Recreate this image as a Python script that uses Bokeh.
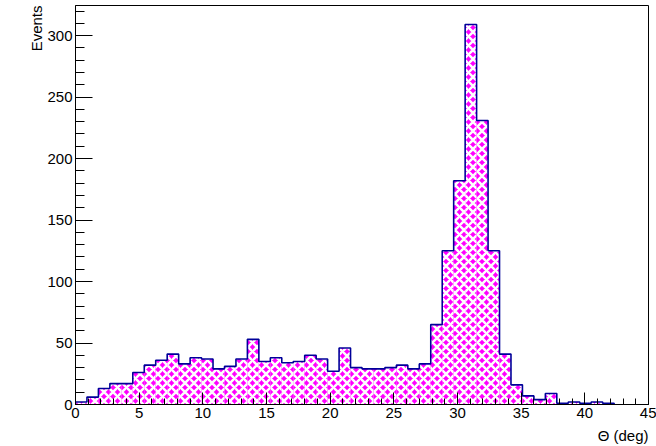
import numpy as np
from bokeh.plotting import figure
from bokeh.models import SingleIntervalTicker, Range1d, Title
from bokeh.embed import file_html
from bokeh.resources import INLINE

# ---- data ----
x_min = 0.0
x_max = 45.0
n_bins = 50
counts = [2, 6, 13, 17, 17, 26, 32, 36, 41, 33,
          38, 37, 29, 31, 37, 53, 35, 38, 34, 35,
          40, 37, 27, 46, 30, 29, 29, 30, 32, 29,
          33, 65, 125, 182, 309, 231, 125, 41, 16, 7,
          4, 9, 1, 2, 1, 2, 1, 0, 0, 0]
x_title = "Θ (deg)"
y_title = "Events"
y_max = 324.5

edges = np.linspace(x_min, x_max, n_bins + 1)
counts_arr = np.array(counts, dtype=float)

FONT = "Liberation Sans"

p = figure(width=656, height=446, output_backend="svg", toolbar_location=None,
           title=None, x_range=Range1d(x_min, x_max), y_range=Range1d(0, y_max),
           min_border_left=75, min_border_right=8, min_border_top=5,
           min_border_bottom=42)
p.grid.visible = False
p.background_fill_color = "white"
p.border_fill_color = "white"
p.outline_line_color = "black"
p.outline_line_width = 1

# filled bins with hatch
p.quad(left=edges[:-1], right=edges[1:], bottom=0, top=counts_arr,
       fill_color="#ff00ff", line_color=None,
       hatch_pattern="diagonal_cross", hatch_color="white",
       hatch_scale=9, hatch_weight=2.5)

# step outline
last = int(np.nonzero(counts_arr)[0][-1]) + 1
e = edges[:last + 1]
c = counts_arr[:last]
xs = np.repeat(e, 2)
ys = np.concatenate([[0.0], np.repeat(c, 2), [0.0]])
p.line(xs, ys, line_color="#000099", line_width=1.6)

# axes styling (ROOT-like: ticks inside)
xa = p.xaxis[0]
xa.ticker = SingleIntervalTicker(interval=5, num_minor_ticks=5)
xa.major_tick_in = 12
xa.major_tick_out = 0
xa.minor_tick_in = 6
xa.minor_tick_out = 0
xa.major_label_standoff = 3
xa.major_label_text_font = FONT
xa.major_label_text_font_size = "15px"
xa.major_label_text_color = "black"
xa.axis_line_color = "black"
# tiny blank axis label used only as a spacer before the title
xa.axis_label = " "
xa.axis_label_text_font_size = "1px"
xa.axis_label_standoff = 0

ya = p.yaxis[0]
ya.ticker = SingleIntervalTicker(interval=50, num_minor_ticks=5)
ya.major_tick_in = 17
ya.major_tick_out = 0
ya.minor_tick_in = 9
ya.minor_tick_out = 0
ya.major_label_standoff = 3
ya.major_label_text_font = FONT
ya.major_label_text_font_size = "15px"
ya.major_label_text_color = "black"
ya.axis_line_color = "black"

# axis titles (ROOT style: aligned to the axis end)
p.add_layout(Title(text=x_title, align="right", standoff=0, offset=0,
                   text_font=FONT, text_font_size="15px",
                   text_font_style="normal", text_color="black"), "below")
p.add_layout(Title(text=y_title, align="right", standoff=0, offset=0,
                   text_font=FONT, text_font_size="15px",
                   text_font_style="normal", text_color="black"), "left")

open("out.html", "w").write(file_html(p, INLINE))
